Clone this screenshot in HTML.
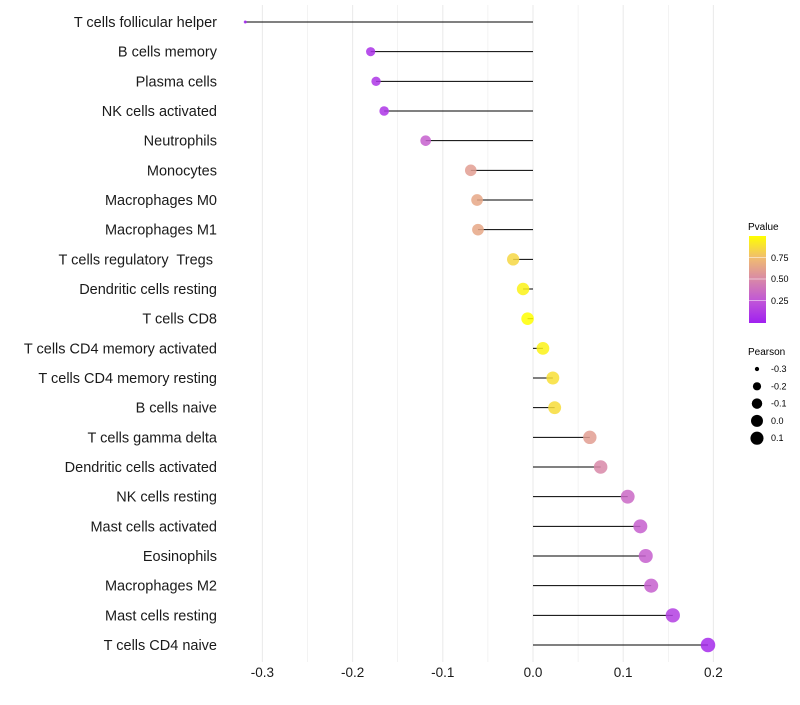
<!DOCTYPE html>
<html><head><meta charset="utf-8"><style>
body{margin:0;background:#fff;font-family:"Liberation Sans",sans-serif;}
svg text{font-family:"Liberation Sans",sans-serif;white-space:pre;}
</style></head><body>
<svg id="chart" width="800" height="700" xmlns="http://www.w3.org/2000/svg">
<defs><linearGradient id="pg" x1="0" y1="1" x2="0" y2="0">
<stop offset="0" stop-color="#a020f0"/><stop offset="0.25" stop-color="#c055d8"/><stop offset="0.5" stop-color="#d888a8"/><stop offset="0.75" stop-color="#f0bc70"/><stop offset="1" stop-color="#ffff00"/></linearGradient></defs>
<g id="grid"></g><g id="marks"></g><g id="ylabels"></g><g id="xlabels"></g>
<g>
<text x="748" y="230" font-size="10" fill="#000">Pvalue</text>
<rect x="749" y="236" width="17" height="87" fill="url(#pg)"/>
<line x1="749" x2="766" y1="257.5" y2="257.5" stroke="#fff" stroke-opacity="0.5"/>
<line x1="749" x2="766" y1="279" y2="279" stroke="#fff" stroke-opacity="0.5"/>
<line x1="749" x2="766" y1="300.5" y2="300.5" stroke="#fff" stroke-opacity="0.5"/>
<text x="771" y="261" font-size="9">0.75</text><text x="771" y="282" font-size="9">0.50</text><text x="771" y="304" font-size="9">0.25</text>
</g>
<g id="sizeLegend"><text x="748" y="355" font-size="10">Pearson</text></g>
</svg>
<script>
const categories=["T cells follicular helper","B cells memory","Plasma cells","NK cells activated","Neutrophils","Monocytes","Macrophages M0","Macrophages M1","T cells regulatory  Tregs ","Dendritic cells resting","T cells CD8","T cells CD4 memory activated","T cells CD4 memory resting","B cells naive","T cells gamma delta","Dendritic cells activated","NK cells resting","Mast cells activated","Eosinophils","Macrophages M2","Mast cells resting","T cells CD4 naive"];
const pearson=[-0.319,-0.180,-0.174,-0.165,-0.119,-0.069,-0.062,-0.061,-0.022,-0.011,-0.006,0.011,0.022,0.024,0.063,0.075,0.105,0.119,0.125,0.131,0.155,0.194];
const pvalues=[0.0,0.08,0.1,0.1,0.3,0.6,0.65,0.65,0.85,0.95,1.0,0.95,0.88,0.87,0.6,0.5,0.35,0.3,0.3,0.3,0.15,0.05];
const xTicks=[-0.3,-0.2,-0.1,0.0,0.1,0.2];
const sizeLegend=[-0.3,-0.2,-0.1,0.0,0.1];
const NS="http://www.w3.org/2000/svg";
const x=v=>533+v*902;
const y=i=>22+i*29.667;
const r=v=>{const o=Math.max(0,v+0.319);return Math.sqrt(2.25+150*o-100*o*o);};
const stops=[[0,[160,32,240]],[0.25,[192,85,216]],[0.5,[216,136,168]],[0.75,[240,188,112]],[1,[255,255,0]]];
function col(p){for(let k=1;k<stops.length;k++){if(p<=stops[k][0]){const a=stops[k-1],b=stops[k],t=(p-a[0])/(b[0]-a[0]);return "rgb("+a[1].map((c,j)=>Math.round(c+(b[1][j]-c)*t)).join(",")+")";}}return "rgb(255,255,0)";}
function mk(tag,attrs,parent){const e=document.createElementNS(NS,tag);for(const k in attrs)e.setAttribute(k,attrs[k]);parent.appendChild(e);return e;}
const grid=document.getElementById('grid'),marks=document.getElementById('marks'),yl=document.getElementById('ylabels'),xl=document.getElementById('xlabels'),sl=document.getElementById('sizeLegend');
for(let k=-6;k<=4;k++){const v=k*0.05;const l=mk('line',{x1:x(v),x2:x(v),y1:5,y2:662,stroke:'#ebebeb','stroke-width':k%2===0?1.1:0.6},grid);

}
categories.forEach((c,i)=>{
const ln=mk('line',{x1:x(0),x2:x(pearson[i]),y1:y(i),y2:y(i),stroke:'#000','stroke-width':1},marks);


const d=mk('circle',{cx:x(pearson[i]),cy:y(i),r:r(pearson[i]),fill:col(pvalues[i]),'fill-opacity':0.85},marks);


const t=mk('text',{x:217,y:y(i)+5,'font-size':14.5,'text-anchor':'end',fill:'#1a1a1a'},yl);t.textContent=c;


});
xTicks.forEach(v=>{const t=mk('text',{x:x(v),y:677,'font-size':13.5,'text-anchor':'middle',fill:'#1a1a1a'},xl);t.textContent=v.toFixed(1);

});
sizeLegend.forEach((v,i)=>{const c=mk('circle',{cx:757,cy:369+i*17.3,r:r(v)*0.95},sl);


const t=mk('text',{x:771,y:372+i*17.3,'font-size':9},sl);t.textContent=v.toFixed(1);

});
</script>
</body></html>
